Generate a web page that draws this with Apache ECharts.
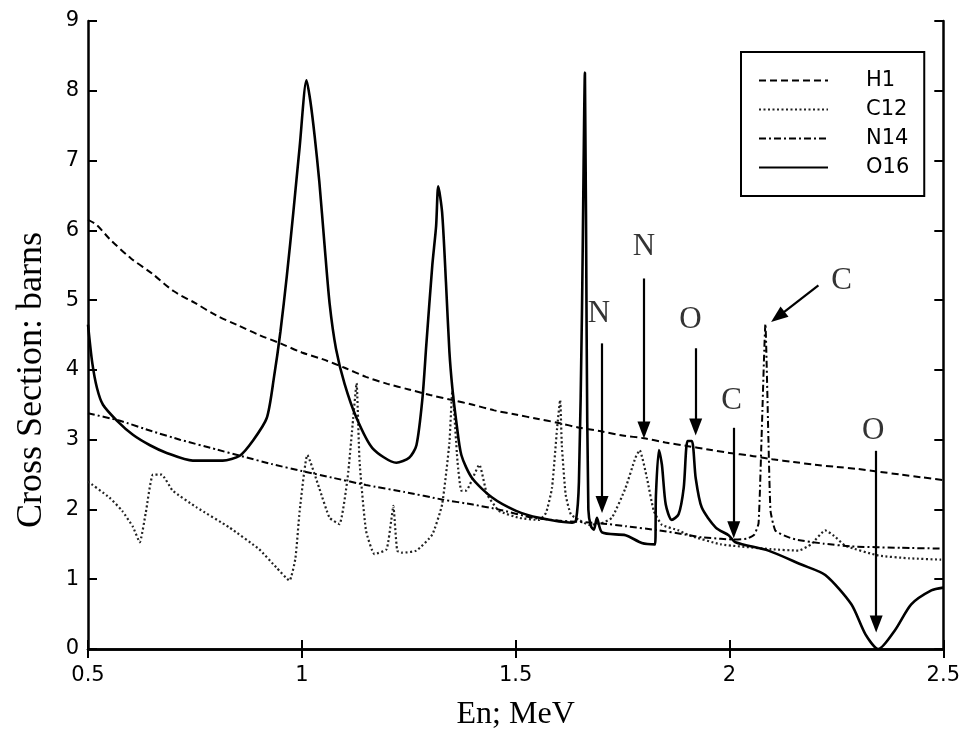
<!DOCTYPE html>
<html>
<head>
<meta charset="utf-8">
<script src="https://cdn.jsdelivr.net/npm/echarts@6/dist/echarts.min.js"></script>
<style>html,body{margin:0;padding:0;background:#fff}#c{width:963px;height:736px}</style>
</head>
<body>
<div id="c"></div>
<script>
// ---- data (energy MeV, cross section barns) ----
const xTicks = [0.5, 1, 1.5, 2, 2.5];
const yTicks = [0, 1, 2, 3, 4, 5, 6, 7, 8, 9];
const seriesNames = ['H1', 'C12', 'N14', 'O16'];

const H1 = [[0.5,6.15],[0.52,6.08],[0.55,5.88],[0.6,5.6],[0.65,5.38],[0.7,5.13],[0.75,4.96],[0.8,4.78],[0.85,4.64],[0.9,4.5],[0.95,4.38],[1.0,4.25],[1.05,4.15],[1.1,4.03],[1.15,3.9],[1.2,3.8],[1.25,3.72],[1.3,3.64],[1.35,3.57],[1.4,3.5],[1.45,3.42],[1.5,3.36],[1.55,3.3],[1.6,3.24],[1.65,3.17],[1.7,3.12],[1.75,3.06],[1.8,3.02],[1.85,2.96],[1.9,2.91],[1.95,2.86],[2.0,2.81],[2.05,2.77],[2.1,2.72],[2.15,2.68],[2.2,2.64],[2.25,2.61],[2.3,2.58],[2.35,2.54],[2.4,2.5],[2.45,2.46],[2.5,2.42]];

const C12 = [[0.5,2.4],[0.55,2.17],[0.58,1.98],[0.605,1.75],[0.621,1.53],[0.635,1.95],[0.652,2.5],[0.672,2.5],[0.698,2.27],[0.754,2.03],[0.831,1.74],[0.9,1.43],[0.94,1.17],[0.971,0.98],[0.985,1.3],[0.995,1.98],[1.013,2.78],[1.041,2.3],[1.065,1.88],[1.088,1.79],[1.107,2.45],[1.12,3.3],[1.128,3.81],[1.135,2.69],[1.15,1.7],[1.17,1.36],[1.198,1.43],[1.209,1.84],[1.214,2.05],[1.223,1.41],[1.235,1.38],[1.268,1.41],[1.305,1.64],[1.328,2.07],[1.345,2.95],[1.352,3.7],[1.364,2.69],[1.373,2.27],[1.384,2.27],[1.415,2.64],[1.433,2.22],[1.461,1.98],[1.508,1.88],[1.555,1.85],[1.571,1.95],[1.585,2.31],[1.597,3.17],[1.604,3.57],[1.608,2.92],[1.617,2.21],[1.629,1.93],[1.648,1.85],[1.671,1.78],[1.7,1.8],[1.725,1.88],[1.757,2.31],[1.78,2.74],[1.79,2.85],[1.807,2.45],[1.823,1.98],[1.842,1.78],[1.881,1.7],[1.905,1.63],[1.98,1.5],[2.098,1.43],[2.161,1.41],[2.191,1.5],[2.224,1.7],[2.245,1.62],[2.271,1.48],[2.348,1.34],[2.42,1.3],[2.495,1.28]];

const N14 = [[0.5,3.38],[0.575,3.27],[0.65,3.12],[0.715,3.0],[0.8,2.86],[0.855,2.77],[0.93,2.65],[1.0,2.55],[1.075,2.45],[1.15,2.35],[1.24,2.25],[1.33,2.14],[1.4,2.07],[1.46,2.0],[1.54,1.88],[1.6,1.84],[1.7,1.8],[1.757,1.76],[1.835,1.7],[1.897,1.64],[1.935,1.6],[1.98,1.58],[2.005,1.57],[2.04,1.58],[2.058,1.64],[2.068,1.8],[2.075,3.02],[2.084,4.66],[2.091,3.02],[2.096,1.98],[2.107,1.7],[2.13,1.62],[2.154,1.57],[2.22,1.51],[2.285,1.47],[2.4,1.45],[2.495,1.44]];

const O16 = [[0.5,4.65],[0.51,4.1],[0.521,3.74],[0.535,3.5],[0.568,3.27],[0.605,3.07],[0.645,2.92],[0.684,2.81],[0.745,2.7],[0.815,2.7],[0.855,2.77],[0.885,2.98],[0.918,3.31],[0.935,3.9],[0.95,4.55],[0.965,5.35],[0.98,6.25],[0.995,7.2],[1.011,8.15],[1.02,7.85],[1.03,7.35],[1.041,6.69],[1.053,5.8],[1.065,4.95],[1.08,4.3],[1.1,3.8],[1.128,3.31],[1.165,2.88],[1.221,2.67],[1.251,2.74],[1.268,2.92],[1.282,3.59],[1.291,4.35],[1.305,5.49],[1.314,6.06],[1.319,6.63],[1.328,6.26],[1.337,5.26],[1.345,4.27],[1.352,3.74],[1.361,3.27],[1.373,2.78],[1.398,2.45],[1.445,2.17],[1.501,1.98],[1.555,1.88],[1.632,1.81],[1.641,1.84],[1.648,2.4],[1.655,4.8],[1.662,8.26],[1.666,4.5],[1.67,2.0],[1.676,1.76],[1.683,1.71],[1.69,1.88],[1.702,1.67],[1.757,1.63],[1.795,1.52],[1.826,1.5],[1.828,2.2],[1.835,2.85],[1.842,2.64],[1.851,2.07],[1.865,1.85],[1.881,1.93],[1.893,2.31],[1.902,2.98],[1.912,2.98],[1.921,2.45],[1.935,2.03],[1.968,1.74],[1.998,1.63],[2.014,1.53],[2.091,1.41],[2.168,1.21],[2.224,1.06],[2.285,0.64],[2.318,0.21],[2.348,0.0],[2.387,0.27],[2.425,0.64],[2.472,0.84],[2.5,0.88]];

// annotation letters [E, barns, text]
const noteLabels = [[1.695,4.81,'N'],[1.80,5.76,'N'],[1.909,4.71,'O'],[2.005,3.55,'C'],[2.262,5.28,'C'],[2.336,3.12,'O']];
// annotation arrows [[E0, y0], [E1, y1]] (tail -> arrow head)
const noteArrows = [
  [[1.702,4.38],[1.702,2.07]],
  [[1.80,5.31],[1.80,3.14]],
  [[1.921,4.31],[1.921,3.18]],
  [[2.01,3.17],[2.01,1.71]],
  [[2.208,5.21],[2.113,4.76]],
  [[2.343,2.84],[2.343,0.36]]
];

const chart = echarts.init(document.getElementById('c'), null, {renderer: 'canvas'});
const sans = 'DejaVu Sans';
const serif = 'Liberation Serif';
const axisLine = {show: true, lineStyle: {color: '#000', width: 2.5}};
const ticks = {show: true, inside: true, length: 9, lineStyle: {color: '#000', width: 2}};

function lineSeries(name, data, style, smooth) {
  return {
    name, type: 'line', data, showSymbol: false, symbol: 'none',
    smooth: smooth, animation: false,
    itemStyle: {color: '#000'},
    lineStyle: Object.assign({color: '#000'}, style), z: 3
  };
}

chart.setOption({
  backgroundColor: '#fff',
  animation: false,
  grid: {left: 88, right: 18, top: 21, bottom: 84, containLabel: false},
  xAxis: [{
    type: 'value', min: xTicks[0], max: xTicks[xTicks.length - 1], interval: 0.5,
    position: 'bottom', axisLine, axisTick: ticks, splitLine: {show: false},
    axisLabel: {color: '#000', fontFamily: sans, fontSize: 21, margin: 16},
    name: 'En; MeV', nameLocation: 'middle', nameGap: 50,
    nameTextStyle: {color: '#000', fontFamily: serif, fontSize: 32}
  }, {
    type: 'value', min: xTicks[0], max: xTicks[xTicks.length - 1], interval: 0.5,
    position: 'top', axisLine, axisTick: ticks, axisLabel: {show: false}, splitLine: {show: false}
  }],
  yAxis: [{
    type: 'value', min: yTicks[0], max: yTicks[yTicks.length - 1], interval: 1,
    position: 'left', axisLine, axisTick: ticks, splitLine: {show: false},
    axisLabel: {color: '#000', fontFamily: sans, fontSize: 21, margin: 9}
  }, {
    type: 'value', min: yTicks[0], max: yTicks[yTicks.length - 1], interval: 1,
    position: 'right', axisLine, axisTick: ticks, axisLabel: {show: false}, splitLine: {show: false}
  }],
  legend: {
    data: seriesNames, orient: 'vertical', left: 741, top: 52,
    backgroundColor: '#fff', borderColor: '#000', borderWidth: 2, borderRadius: 0,
    padding: [18, 15, 18, 17], itemWidth: 69, itemHeight: 20, itemGap: 8,
    itemStyle: {opacity: 0, borderWidth: 0},
    textStyle: {color: '#000', fontFamily: sans, fontSize: 21, lineHeight: 20, padding: [0, 0, 0, 33]},
    selectedMode: false
  },
  graphic: [{
    type: 'text', x: 32, y: 380, rotation: Math.PI / 2,
    style: {text: 'Cross Section: barns', font: '36px "Liberation Serif"', fill: '#000', align: 'center', verticalAlign: 'middle'}
  }],
  series: [
    lineSeries('H1', H1, {width: 2, type: [7, 4]}, 0.3),
    lineSeries('C12', C12, {width: 2.2, type: [2, 2.5], color: '#222'}, 0.15),
    lineSeries('N14', N14, {width: 2, type: [7, 3, 2, 3]}, 0.15),
    lineSeries('O16', O16, {width: 2.6, type: 'solid'}, 0.25),
    {
      name: 'notes', type: 'scatter', data: noteLabels, symbolSize: 0, silent: true,
      label: {show: true, position: 'inside', formatter: p => p.value[2], color: '#000', fontFamily: serif, fontSize: 31},
      markLine: {
        silent: true, animation: false, symbol: ['none', 'triangle'], symbolSize: [13, 17],
        label: {show: false},
        lineStyle: {color: '#000', width: 2.2, type: 'solid'},
        emphasis: {disabled: true},
        data: noteArrows.map(a => [{coord: a[0]}, {coord: a[1]}])
      },
      z: 5
    }
  ]
});
</script>
</body>
</html>
